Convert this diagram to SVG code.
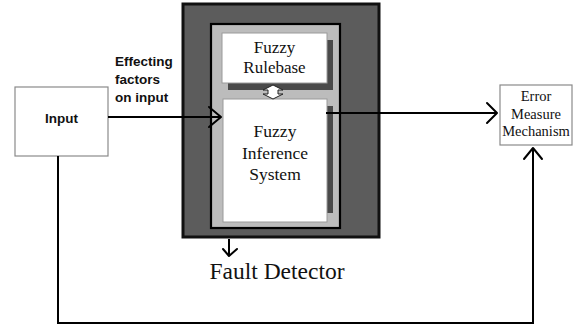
<svg xmlns="http://www.w3.org/2000/svg" width="574" height="325" viewBox="0 0 574 325">
<style>
.box{fill:#fff;stroke:#8a8a8a;stroke-width:1.2}
.sans{font-family:"Liberation Sans",Arial,sans-serif;font-weight:bold;font-size:13.5px;fill:#111}
.serif{font-family:"Liberation Serif","Times New Roman",serif;fill:#111}
.line{fill:none;stroke:#000;stroke-width:2}
.head{fill:none;stroke:#000;stroke-width:2;stroke-linecap:round;stroke-linejoin:round}
</style>
<rect width="574" height="325" fill="#fff"/>
<g id="fault-detector">
  <rect x="183" y="4" width="196" height="233" fill="#5c5c5c" stroke="#111" stroke-width="3"/>
  <rect x="211" y="24" width="129" height="204" fill="#bcbcbc" stroke="#000" stroke-width="2.2"/>
  <text class="serif" x="277" y="279" font-size="23.5" text-anchor="middle">Fault Detector</text>
</g>
<g id="fuzzy-rulebase">
  <rect x="228" y="40" width="105" height="50" fill="#4a4a4a"/>
  <rect x="222" y="33" width="105" height="50" fill="#fff" stroke="#9a9a9a" stroke-width="1"/>
  <text class="serif" font-size="17" text-anchor="middle"><tspan x="274.5" y="53">Fuzzy</tspan><tspan x="274.5" y="73">Rulebase</tspan></text>
</g>
<g id="fuzzy-inference-system">
  <rect x="327" y="106" width="6" height="107" fill="#4a4a4a"/>
  <rect x="223" y="99" width="104" height="123" fill="#fff" stroke="#9a9a9a" stroke-width="1"/>
  <text class="serif" font-size="17.5" text-anchor="middle"><tspan x="275" y="137">Fuzzy</tspan><tspan x="275" y="158.5">Inference</tspan><tspan x="275" y="180">System</tspan></text>
</g>
<g id="input">
  <rect class="box" x="15" y="87" width="93" height="69"/>
  <text class="sans" x="61.5" y="123" text-anchor="middle">Input</text>
</g>
<g id="error-measure">
  <rect class="box" x="500" y="85" width="72" height="60"/>
  <text class="serif" font-size="14.5" text-anchor="middle"><tspan x="536" y="100.5">Error</tspan><tspan x="536" y="118.5">Measure</tspan><tspan x="536" y="136">Mechanism</tspan></text>
</g>
<g id="connectors">
  <polygon points="273,85 283,90 278,90 278,94 283,94 273,99 263,94 268,94 268,90 263,90" fill="#fff" stroke="#222" stroke-width="1"/>
  <line class="line" x1="108" y1="117" x2="221" y2="117"/>
  <polyline class="head" points="209,107 221,117 209,127"/>
  <text class="sans" x="115" y="66">Effecting</text>
  <text class="sans" x="115" y="84">factors</text>
  <text class="sans" x="115" y="102">on input</text>
  <line class="line" x1="326" y1="113" x2="497" y2="113"/>
  <polyline class="head" points="487,103 497,113 487,123"/>
  <polyline class="line" points="58,156 58,323 533,323 533,148"/>
  <polyline class="head" points="524,159 533,148 542,159"/>
  <line class="line" x1="229" y1="239" x2="229" y2="256"/>
  <polyline class="head" points="223,249 229,256 237,249"/>
</g>
</svg>
